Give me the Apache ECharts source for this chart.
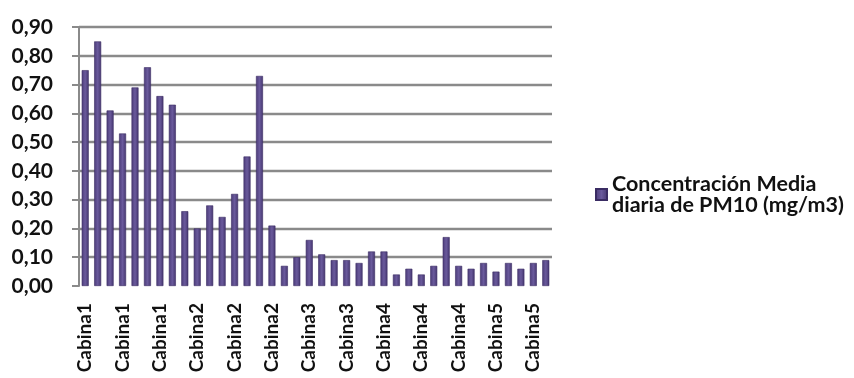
<!DOCTYPE html>
<html>
<head>
<meta charset="utf-8">
<script src="https://cdn.jsdelivr.net/npm/echarts@6/dist/echarts.min.js"></script>
<style>
  html, body { margin: 0; padding: 0; background: #ffffff; }
  #chart { width: 854px; height: 378px; }
</style>
</head>
<body>
<div id="chart"></div>
<script>
// Sampling days grouped by cabin
const categories = [
  'Cabina1','Cabina1','Cabina1','Cabina1','Cabina1','Cabina1','Cabina1','Cabina1','Cabina1',
  'Cabina2','Cabina2','Cabina2','Cabina2','Cabina2','Cabina2','Cabina2','Cabina2','Cabina2',
  'Cabina3','Cabina3','Cabina3','Cabina3','Cabina3','Cabina3',
  'Cabina4','Cabina4','Cabina4','Cabina4','Cabina4','Cabina4','Cabina4','Cabina4',
  'Cabina5','Cabina5','Cabina5','Cabina5','Cabina5','Cabina5'
];

// Daily mean PM10 concentration (mg/m3)
const pm10Values = [
  0.75, 0.85, 0.61, 0.53, 0.69, 0.76, 0.66, 0.63, 0.26,
  0.20, 0.28, 0.24, 0.32, 0.45, 0.73, 0.21, 0.07, 0.10,
  0.16, 0.11, 0.09, 0.09, 0.08, 0.12,
  0.12, 0.04, 0.06, 0.04, 0.07, 0.17, 0.07, 0.06,
  0.08, 0.05, 0.08, 0.06, 0.08, 0.09
];

const seriesName = 'Concentración Media\ndiaria de PM10 (mg/m3)';
const yTicks = { min: 0, max: 0.9, interval: 0.1 };

const chart = echarts.init(document.getElementById('chart'));
chart.setOption({
  animation: false,
  backgroundColor: '#ffffff',
  grid: { left: 79, right: 302, top: 27, bottom: 92, containLabel: false },
  legend: {
    orient: 'vertical',
    left: 590,
    top: 168,
    itemWidth: 11,
    itemHeight: 11,
    itemGap: 0,
    icon: 'rect',
    textStyle: {
      fontFamily: 'Lato',
      fontWeight: 'bold',
      fontSize: 21.5,
      color: '#111111',
      lineHeight: 21
    },
    data: [seriesName]
  },
  xAxis: {
    type: 'category',
    data: categories,
    boundaryGap: true,
    axisLine: { show: false },
    axisTick: { show: false },
    axisLabel: {
      interval: 2,
      rotate: 90,
      margin: 17,
      fontFamily: 'Lato',
      fontWeight: 'bold',
      fontSize: 19,
      color: '#111111'
    }
  },
  yAxis: {
    type: 'value',
    min: yTicks.min,
    max: yTicks.max,
    interval: yTicks.interval,
    axisLine: { show: true, lineStyle: { color: '#8a8a8a', width: 2 } },
    axisTick: { show: true, length: 7, lineStyle: { color: '#8a8a8a', width: 2 } },
    splitLine: { show: true, showMinLine: false, lineStyle: { color: '#8a8a8a', width: 2.4 } },
    axisLabel: {
      margin: 26,
      fontFamily: 'Lato',
      fontWeight: 'bold',
      fontSize: 21,
      color: '#111111',
      formatter: v => v.toFixed(2).replace('.', ',')
    }
  },
  series: [{
    name: seriesName,
    type: 'bar',
    data: pm10Values,
    barWidth: 7,
    itemStyle: {
      color: new echarts.graphic.LinearGradient(0, 0, 1, 0, [
        { offset: 0, color: '#4b3b78' },
        { offset: 0.5, color: '#6a5a9c' },
        { offset: 1, color: '#45366f' }
      ]),
      borderColor: '#3a2c63',
      borderWidth: 0.6
    }
  }]
});
</script>
</body>
</html>
